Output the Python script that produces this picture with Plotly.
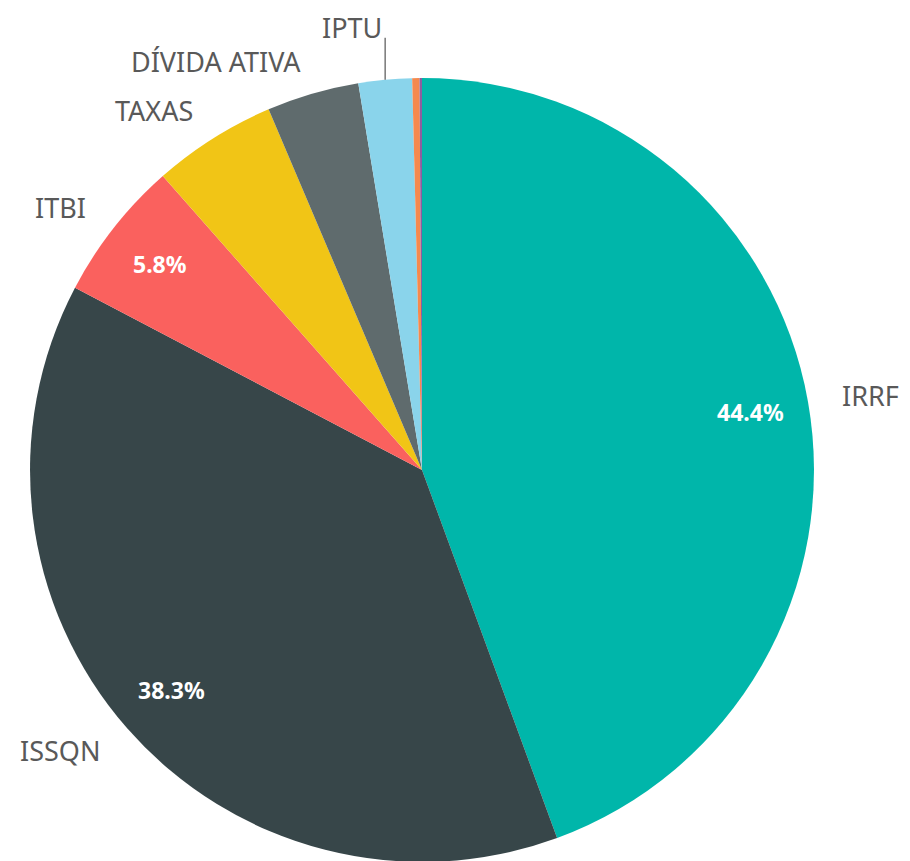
import math
import plotly.graph_objects as go

# =====================================
# DATA
# =====================================

labels = ["IRRF", "ISSQN", "ITBI", "TAXAS", "DÍVIDA ATIVA", "IPTU", "ITR", "OUTROS"]
shares = [44.4, 38.3, 5.8, 5.1, 3.8, 2.2, 0.3, 0.1]
show_pct = [True, True, True, False, False, False, False, False]
outside_names = ["IRRF", "ISSQN", "ITBI", "TAXAS", "DÍVIDA ATIVA", "IPTU", "", ""]

colors = ["#00b6aa", "#374649", "#fa615e", "#f1c516", "#5f6b6d",
          "#8ad4eb", "#f5894d", "#8e5ca0"]

# =====================================
# GEOMETRY (figure / pie domain)
# =====================================

W, H = 910, 861
DOM_X = [0.0242, 0.8857]
DOM_Y = [0.0081, 0.9187]

cx = (DOM_X[0] + DOM_X[1]) / 2 * W
cy = H - (DOM_Y[0] + DOM_Y[1]) / 2 * H          # from top, px
r = min((DOM_X[1] - DOM_X[0]) * W, (DOM_Y[1] - DOM_Y[0]) * H) / 2

LABEL_R = r + 33
PCT_R = r * 0.85
LEADER_LEN = 42

NAME_FONT = dict(family="Noto Sans", size=27, color="#595959")
PCT_FONT = dict(family="Noto Sans", size=23, color="white", weight="bold")

# =====================================
# PIE
# =====================================

fig = go.Figure()

fig.add_trace(
    go.Pie(
        labels=labels,
        values=shares,
        sort=False,
        direction="clockwise",
        rotation=0,
        domain=dict(x=DOM_X, y=DOM_Y),
        marker=dict(colors=colors, line=dict(width=0)),
        textinfo="none",
        showlegend=False,
        hoverinfo="label+percent",
    )
)

# =====================================
# LABELS (positions from cumulative shares)
# =====================================

def to_paper(px, py):
    return px / W, 1 - py / H

total = sum(shares)
cum = 0.0
for name, v, pct in zip(outside_names, shares, show_pct):
    start = cum
    cum += v
    theta = (start + cum) / 2 / total * 2 * math.pi
    s, c = math.sin(theta), math.cos(theta)

    # percentage inside the slice
    if pct:
        px, py = to_paper(cx + PCT_R * s, cy - PCT_R * c)
        fig.add_annotation(
            x=px, y=py, xref="paper", yref="paper",
            text=f"{v / total * 100:.1f}%", showarrow=False,
            xanchor="center", yanchor="middle", font=PCT_FONT,
        )

    if not name:
        continue

    if v / total < 0.03:
        # small slice: leader line straight up from the edge
        x0 = cx + r * s
        y0 = cy - r * c
        y1 = y0 - LEADER_LEN
        fig.add_shape(
            type="line", xref="paper", yref="paper",
            x0=x0 / W, x1=x0 / W, y0=1 - y0 / H, y1=1 - y1 / H,
            line=dict(color="#333333", width=1),
        )
        px, py = to_paper(x0 - 2, y1 - 10)
        fig.add_annotation(
            x=px, y=py, xref="paper", yref="paper",
            text=name, showarrow=False, xanchor="right", yanchor="middle",
            borderpad=0, font=NAME_FONT,
        )
    else:
        px, py = to_paper(cx + LABEL_R * s, cy - LABEL_R * c)
        fig.add_annotation(
            x=px, y=py, xref="paper", yref="paper",
            text=name, showarrow=False,
            xanchor="left" if s > 0 else "right", yanchor="middle",
            font=NAME_FONT,
        )

# =====================================
# LAYOUT
# =====================================

fig.update_layout(
    width=W,
    height=H,
    margin=dict(l=0, r=0, t=0, b=0),
    paper_bgcolor="white",
    plot_bgcolor="white",
)

fig.write_html("out.html")
